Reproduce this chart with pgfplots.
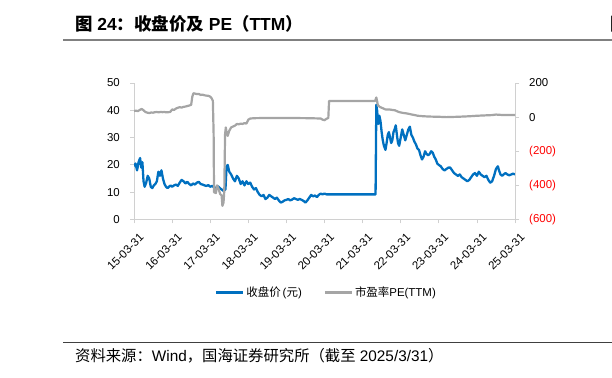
\documentclass[border=0pt]{standalone}
\usepackage{pgfplots}
\usepackage{pgfplotstable}
\pgfplotsset{compat=1.18}
\usepackage{fontspec}
\setmainfont{Liberation Sans}
\newfontfamily\cjk{Noto Sans CJK SC}
\definecolor{pblue}{HTML}{0070C0}
\definecolor{pgray}{HTML}{A5A5A5}
\definecolor{axgray}{HTML}{D0D0D0}
\definecolor{negred}{HTML}{FF0000}

\pgfplotstableread{
t v
0.00 19.5
0.04 20.5
0.08 18
0.12 21
0.16 22.5
0.19 19
0.22 21
0.25 14
0.28 12
0.32 13.5
0.36 16
0.40 15
0.44 12
0.48 11.5
0.52 12.5
0.56 13
0.60 14
0.64 17.5
0.68 16
0.72 18
0.76 15
0.80 13
0.84 12
0.88 11.5
0.92 12
0.96 12.5
1.00 12
1.05 12.5
1.10 12.8
1.15 12.3
1.20 13.5
1.25 14.5
1.30 14
1.35 13.2
1.40 13.8
1.45 13
1.50 12.5
1.55 13.2
1.60 12.8
1.65 13.5
1.70 13.8
1.75 13
1.80 12.8
1.85 12.5
1.90 12.3
1.95 12.6
2.00 12
2.05 12.3
2.10 11.8
2.15 11.5
2.20 12.2
2.25 11.5
2.30 11
2.35 10.5
2.40 11
2.43 19.5
2.46 20
2.50 17.5
2.55 16.5
2.60 15
2.65 14
2.70 16
2.75 15
2.80 13
2.85 14
2.90 12.5
2.95 14
3.00 13
3.05 13.5
3.10 12
3.15 11
3.20 11.5
3.25 10
3.30 9
3.35 8.5
3.40 9
3.45 7.5
3.50 8
3.55 9
3.60 8.5
3.65 8
3.70 7.5
3.75 8
3.80 7
3.85 6.2
3.90 6.5
3.95 7
4.00 7.2
4.05 7.5
4.10 7
4.15 7.3
4.20 7.8
4.25 7.5
4.30 7.2
4.35 7.5
4.40 7.2
4.45 6.8
4.50 6.2
4.55 7
4.60 8
4.65 9
4.70 8.5
4.75 8.8
4.80 8.2
4.85 9
4.90 9.5
4.95 9.2
5.00 9.5
5.05 9.2
5.10 9.2
6.34 9.2
6.36 42
6.38 40
6.41 35
6.44 38
6.47 36
6.50 32
6.53 29
6.56 27
6.60 25.5
6.63 28
6.66 31
6.69 32
6.72 30
6.75 28
6.78 29
6.81 32
6.84 33
6.87 34.5
6.90 31
6.93 28
6.96 27
7.00 30
7.04 33
7.08 31
7.12 29
7.16 31
7.20 33
7.24 34
7.28 31
7.32 30
7.36 28.5
7.40 27.5
7.44 26
7.48 25.5
7.52 23.5
7.56 22
7.60 23
7.64 25
7.68 24
7.72 23.5
7.76 24
7.80 25
7.84 24.5
7.88 23
7.92 22
7.96 20.5
8.00 20
8.05 19.5
8.10 18.5
8.15 18
8.20 18.5
8.25 19
8.30 19
8.35 18
8.40 17
8.45 16.5
8.50 16
8.55 16.5
8.60 15.5
8.65 15
8.70 14.5
8.75 14
8.80 14.5
8.85 15.5
8.90 16.5
8.95 17
9.00 16
9.05 17.5
9.10 16.5
9.15 16
9.20 15.5
9.25 16
9.30 14.5
9.35 13.5
9.40 14
9.45 16
9.50 18.5
9.55 19.5
9.58 18
9.62 16.5
9.66 16
9.70 16.5
9.75 17
9.80 16.5
9.85 16.2
9.90 16.5
9.95 16.8
10.00 16.5
}\pricedata

\pgfplotstableread{
t v
0.00 36
0.05 38
0.10 35
0.15 42
0.20 48
0.25 40
0.30 30
0.35 26
0.40 24
0.45 27
0.50 26
0.55 29
0.60 30
0.65 28
0.70 31
0.75 29
0.80 30
0.85 28
0.90 29
0.95 30
1.00 45
1.05 42
1.10 50
1.15 55
1.20 58
1.25 56
1.30 60
1.35 62
1.40 65
1.45 68
1.50 72
1.53 120
1.56 140
1.60 138
1.65 135
1.70 136
1.75 130
1.80 132
1.85 128
1.90 126
1.95 125
2.00 120
2.04 110
2.07 95
2.09 -100
2.10 -440
2.15 -445
2.18 -400
2.22 -420
2.26 -450
2.30 -460
2.32 -520
2.35 -500
2.37 -430
2.39 -100
2.41 -60
2.43 -90
2.46 -110
2.50 -80
2.55 -60
2.60 -55
2.65 -50
2.70 -40
2.75 -42
2.80 -38
2.85 -40
2.90 -35
2.95 -38
3.00 -15
3.05 -8
3.20 -6
3.50 -5
4.00 -5
4.50 -6
4.90 -8
4.95 -15
5.00 -18
5.05 -10
5.10 -5
5.12 95
6.33 95
6.36 115
6.38 95
6.40 70
6.45 60
6.50 55
6.55 50
6.60 45
6.70 45
6.78 42
6.85 40
6.95 30
7.05 25
7.15 22
7.30 15
7.45 8
7.60 5
7.80 3
8.00 2
8.20 0
8.50 2
8.80 5
9.00 8
9.20 10
9.40 12
9.50 15
9.70 12
10.00 12
}\pedata

\pgfplotsset{
  base/.style={
    scale only axis, width=381bp, height=136.5bp,
    xmin=0, xmax=10,
    at={(134bp,158.5bp)}, anchor=south west,
    axis line style={draw=axgray, line width=0.8bp, -},
    major tick length=4bp, tick align=outside,
    tick style={draw=axgray, line width=0.8bp},
    ticklabel style={font=\fontsize{11.5}{13}\selectfont},
    /pgf/number format/assume math mode=true,
  }
}

\begin{document}
\begin{tikzpicture}
\path[use as bounding box] (0,0) rectangle (612bp,378bp);
\node[anchor=base west, inner sep=0pt, font=\fontsize{17.5}{20}\selectfont\bfseries] at (75bp,347.5bp)
  {{\cjk 图} 24{\cjk ：收盘价及} PE{\cjk （}TTM{\cjk ）}};
\node[anchor=base west, inner sep=0pt, font=\fontsize{17.5}{20}\selectfont\bfseries] at (610bp,347.5bp) {\cjk 图};
\draw[color=gray, line width=1.6bp] (63bp,338bp) -- (612bp,338bp);
\draw[color=darkgray, line width=1.1bp] (63bp,35.5bp) -- (612bp,35.5bp);
\node[anchor=base west, inner sep=0pt, font=\fontsize{15.4}{18}\selectfont] at (75bp,17bp)
  {{\cjk 资料来源：}Wind{\cjk ，国海证券研究所（截至} 2025/3/31{\cjk ）}};

\begin{axis}[base,
  axis y line*=left, axis x line*=bottom,
  ymin=0, ymax=50, ytick={0,10,20,30,40,50},
  xtick={0,1,2,3,4,5,6,7,8,9,10},
  xticklabels={15-03-31,16-03-31,17-03-31,18-03-31,19-03-31,20-03-31,21-03-31,22-03-31,23-03-31,24-03-31,25-03-31},
  xticklabel style={rotate=45, anchor=east, inner sep=0pt, xshift=-3bp, yshift=-14bp},
  yticklabel style={anchor=east, inner sep=0pt, xshift=-10bp},
]
\addplot[pblue, line width=2.3bp, line join=round] table[x=t, y=v] {\pricedata};
\end{axis}

\begin{axis}[base,
  axis y line*=right, axis x line=none,
  ymin=-600, ymax=200, ytick={-600,-400,-200,0,200},
  yticklabels={\textcolor{negred}{(600)},\textcolor{negred}{(400)},\textcolor{negred}{(200)},0,200},
  yticklabel style={anchor=west, inner sep=0pt, xshift=10bp},
  legend style={at={(0.505,-0.535)}, anchor=center, draw=none, fill=none,
    font=\fontsize{11.5}{13}\selectfont, inner sep=0pt,
    /tikz/every even column/.append style={column sep=20bp}},
  legend columns=2,
  legend image code/.code={\draw[#1] (0bp,0bp) -- (27bp,0bp);},
]
\addlegendimage{pblue, line width=2.5bp}
\addlegendentry{{\cjk 收盘价}\,({\cjk 元})}
\addplot[pgray, line width=2.2bp, line join=round] table[x=t, y=v] {\pedata};
\addlegendentry{{\cjk 市盈率}PE(TTM)}
\end{axis}
\end{tikzpicture}
\end{document}
